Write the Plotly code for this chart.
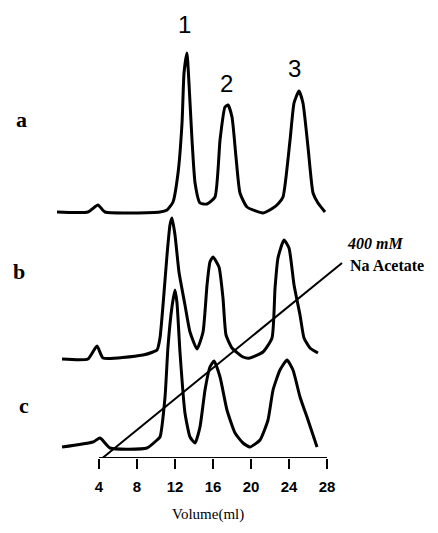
import plotly.graph_objects as go

# ---- data (volume in ml, detector response in arbitrary units above each baseline) ----
A_X = [-0.42, 2.84, 3.89, 4.63, 10.42, 11.16, 11.79, 12.32, 12.74, 12.95, 13.26, 13.47, 13.79,
       14.11, 14.63, 15.37, 16.21, 16.74, 17.26, 17.58, 18.0, 18.42, 18.84, 19.58, 21.26, 22.32,
       22.84, 23.37, 24.11, 24.53, 25.05, 25.47, 26.0, 26.53, 27.05, 27.79]
A_Y = [0, 0, 7, 0, 0, 2, 10, 39, 89, 139, 159, 129, 72,
       29, 9, 8, 15, 72, 105, 107, 95, 55, 19, 5, -1, 4,
       8, 15, 72, 109, 121, 109, 65, 19, 9, 0]

B_X = [0.11, 2.84, 3.79, 4.42, 8.63, 9.68, 10.11, 10.42, 10.74, 11.16, 11.47, 11.68, 12.0, 12.42,
       13.05, 13.58, 14.32, 14.95, 15.37, 15.68, 16.0, 16.63, 17.05, 17.37, 18.0, 19.16, 19.89,
       21.26, 22.21, 22.53, 22.84, 23.47, 24.0, 24.53, 25.16, 25.58, 26.21, 27.05]
B_Y = [0, 0, 13, 1, 4, 7, 9, 21, 54, 104, 134, 141, 124, 87,
       54, 27, 10, 27, 74, 97, 102, 92, 61, 24, 11, 2, 1,
       7, 21, 71, 101, 119, 111, 74, 44, 21, 11, 6]

C_X = [0.11, 3.37, 4.11, 5.16, 9.05, 10.11, 10.42, 10.95, 11.26, 11.68, 12.0, 12.21, 12.53,
       13.05, 13.58, 14.11, 14.63, 15.16, 15.68, 16.11, 16.74, 17.47, 18.32, 19.16, 19.89,
       20.95, 21.79, 22.32, 23.05, 23.79, 24.42, 25.16, 26.0, 26.95]
C_Y = [1, 6, 10, 0, 0, 8, 11, 51, 101, 141, 158, 145, 95,
       35, 11, 5, 21, 58, 81, 87, 71, 38, 15, 5, 1,
       8, 28, 58, 78, 88, 78, 51, 28, 1]

GRADIENT_X = [4.11, 29.58]
GRADIENT_Y = [-2, 195]

TICK_VALS = [4, 8, 12, 16, 20, 24, 28]
TRACE_LABELS = ["a", "b", "c"]
PEAK_LABELS = ["1", "2", "3"]

# vertical offsets of the stacked chromatograms
OFFSETS = [246, 99, 10]

fig = go.Figure()
for xs, ys, off in [(A_X, A_Y, OFFSETS[0]), (B_X, B_Y, OFFSETS[1]), (C_X, C_Y, OFFSETS[2])]:
    fig.add_trace(go.Scatter(x=xs, y=[v + off for v in ys], mode="lines",
                             line=dict(color="black", width=3, shape="spline", smoothing=0.5),
                             showlegend=False, hoverinfo="skip"))

fig.add_trace(go.Scatter(x=GRADIENT_X, y=GRADIENT_Y, mode="lines",
                         line=dict(color="black", width=2), showlegend=False, hoverinfo="skip"))

# axis line from first to last tick
fig.add_shape(type="line", xref="x", yref="y", x0=TICK_VALS[0], x1=TICK_VALS[-1], y0=0, y1=0,
              line=dict(color="black", width=2))

serif = "Liberation Serif, Times New Roman, serif"
sans = "Liberation Sans, Arial, sans-serif"

# trace labels
for lab, (lx, ly) in zip(TRACE_LABELS, [(-4.21, 339), (-4.42, 187), (-3.89, 53)]):
    fig.add_annotation(x=lx, y=ly, text="<b>%s</b>" % lab, showarrow=False,
                       font=dict(family=serif, size=22, color="black"))

# peak labels
for lab, (lx, ly) in zip(PEAK_LABELS, [(13.05, 434), (17.37, 375), (24.63, 390)]):
    fig.add_annotation(x=lx, y=ly, text=lab, showarrow=False,
                       font=dict(family=sans, size=24, color="black"))

fig.add_annotation(x=29.9, y=215, text="<b><i>400 mM</i></b>", showarrow=False, xanchor="left",
                   font=dict(family=serif, size=16, color="black"))
fig.add_annotation(x=30.2, y=193, text="<b>Na Acetate</b>", showarrow=False, xanchor="left",
                   font=dict(family=serif, size=16, color="black"))
fig.add_annotation(xref="paper", yref="paper", x=208 / 438, y=-67 / 458, text="Volume(ml)",
                   showarrow=False, font=dict(family=serif, size=15, color="black"))

fig.update_layout(
    width=438, height=533,
    margin=dict(l=0, r=0, t=0, b=75),
    paper_bgcolor="white", plot_bgcolor="white",
    xaxis=dict(range=[-6.421, 39.684], showgrid=False, zeroline=False, showline=False,
               tickvals=TICK_VALS, ticktext=["<b>%d</b>" % v for v in TICK_VALS],
               ticks="outside", ticklen=10, tickwidth=1.5, tickcolor="black",
               ticklabelstandoff=5,
               tickfont=dict(family=sans, size=15, color="black")),
    yaxis=dict(range=[0, 458], visible=False, showgrid=False, zeroline=False),
)

fig.write_html("out.html")
